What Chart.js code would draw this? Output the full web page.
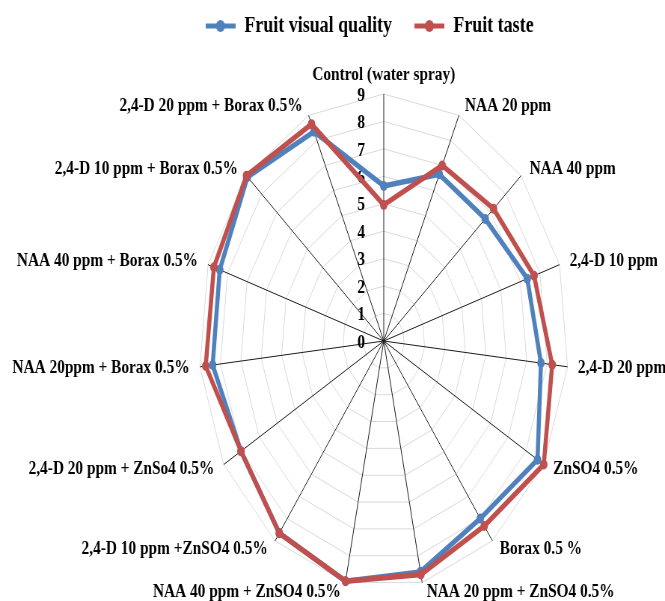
<!DOCTYPE html>
<html>
<head>
<meta charset="utf-8">
<script src="https://cdn.jsdelivr.net/npm/chart.js@4.4.1/dist/chart.umd.min.js"></script>
<style>
  html, body { margin: 0; padding: 0; background: #fff; overflow: hidden; }
  /* the reference is squeezed sideways, so draw wide and squeeze */
  #chart { width: 665px !important; height: 601px !important; display: block; }
</style>
</head>
<body>
<canvas id="chart" width="889" height="601"></canvas>
<script>
const categories = [
  'Control (water spray)', 'NAA 20 ppm', 'NAA 40 ppm', '2,4-D 10 ppm', '2,4-D 20 ppm',
  'ZnSO4 0.5%', 'Borax 0.5 %', 'NAA 20 ppm + ZnSO4 0.5%', 'NAA 40 ppm + ZnSO4 0.5%',
  '2,4-D 10 ppm +ZnSO4 0.5%', '2,4-D 20 ppm + ZnSo4 0.5%', 'NAA 20ppm + Borax 0.5%',
  'NAA 40 ppm + Borax 0.5%', '2,4-D 10 ppm + Borax 0.5%', '2,4-D 20 ppm + Borax 0.5%'
];
const visualQuality = [5.65, 6.65, 6.65, 7.35, 7.7, 8.65, 8.0, 8.6, 8.95, 8.65, 8.03, 8.38, 8.4, 8.93, 8.35];
const taste = [4.96, 7.0, 7.2, 7.7, 8.25, 9.0, 8.33, 8.7, 8.95, 8.66, 8.03, 8.72, 8.7, 9.0, 8.65];
const tickValues = [0, 1, 2, 3, 4, 5, 6, 7, 8, 9];

const BLUE = '#4f81bd';
const RED = '#c0504d';
const FONT = 'bold 18px "Liberation Serif", "Times New Roman", serif';
const TEXT_STRETCH = 1.14;

// little line-with-dot marker for the legend
function legendMark(color) {
  const c = document.createElement('canvas');
  c.width = 40; c.height = 14;
  const g = c.getContext('2d');
  g.strokeStyle = color; g.lineWidth = 5;
  g.beginPath(); g.moveTo(0, 7); g.lineTo(40, 7); g.stroke();
  g.fillStyle = color;
  g.beginPath(); g.arc(20, 7, 6, 0, Math.PI * 2); g.fill();
  return c;
}
const marks = [legendMark(BLUE), legendMark(RED)];

function drawText(ctx, text, x, y, align) {
  ctx.save();
  ctx.translate(x, y);
  ctx.scale(TEXT_STRETCH, 1);
  ctx.textAlign = align;
  ctx.fillText(text, 0, 0);
  ctx.restore();
}

const axisText = {
  id: 'axisText',
  beforeDatasetsDraw(chart) {
    const scale = chart.scales.r;
    const ctx = chart.ctx;
    ctx.save();
    ctx.font = FONT;
    ctx.fillStyle = '#000';
    ctx.textBaseline = 'middle';
    tickValues.forEach(v => {
      const d = scale.getDistanceFromCenterForValue(v);
      drawText(ctx, String(v), scale.xCenter - 25, scale.yCenter - d + 2, 'right');
    });
    ctx.restore();
  },
  afterDraw(chart) {
    const scale = chart.scales.r;
    const ctx = chart.ctx;
    ctx.save();
    ctx.font = FONT;
    ctx.fillStyle = '#000';
    ctx.textBaseline = 'middle';
    categories.forEach((name, i) => {
      const a = scale.getIndexAngle(i);
      const p = scale.getPointPosition(i, scale.drawingArea + 10);
      const s = Math.sin(a);
      if (Math.abs(s) < 0.05) {
        drawText(ctx, name, p.x, p.y - 9, 'center');
      } else if (s > 0) {
        drawText(ctx, name, p.x + 4, p.y, 'left');
      } else {
        drawText(ctx, name, p.x - 4, p.y, 'right');
      }
    });
    ctx.restore();
  }
};

new Chart(document.getElementById('chart'), {
  type: 'radar',
  data: {
    labels: categories,
    datasets: [
      {
        label: 'Fruit visual quality',
        data: visualQuality,
        borderColor: BLUE,
        backgroundColor: BLUE,
        pointBackgroundColor: BLUE,
        pointBorderColor: BLUE,
        order: 2
      },
      {
        label: 'Fruit taste',
        data: taste,
        borderColor: RED,
        backgroundColor: RED,
        pointBackgroundColor: RED,
        pointBorderColor: RED,
        order: 1
      }
    ]
  },
  options: {
    responsive: false,
    animation: false,
    devicePixelRatio: 1,
    layout: { padding: { top: -16, left: 99, right: 0, bottom: 0 } },
    elements: {
      line: { borderWidth: 5.5, tension: 0, fill: false },
      point: { radius: 5, borderWidth: 0, hoverRadius: 5 }
    },
    plugins: {
      tooltip: { enabled: false },
      legend: {
        position: 'top',
        labels: {
          usePointStyle: true,
          pointStyleWidth: 40,
          padding: 30,
          color: '#000',
          font: { family: '"Liberation Serif", "Times New Roman", serif', size: 24, weight: 'bold' },
          sort: (a, b) => a.datasetIndex - b.datasetIndex,
          generateLabels(chart) {
            return Chart.defaults.plugins.legend.labels.generateLabels(chart)
              .map(item => Object.assign(item, { pointStyle: marks[item.datasetIndex] }));
          }
        }
      }
    },
    scales: {
      r: {
        min: 0,
        max: 9,
        ticks: { stepSize: 1, display: false },
        grid: { color: '#d9d9d9', lineWidth: 1 },
        angleLines: { color: '#1a1a1a', lineWidth: 1 },
        pointLabels: { display: false },
        afterFit(scale) {
          scale.xCenter = 513;
          scale.yCenter = 341;
          scale.drawingArea = 247;
        }
      }
    }
  },
  plugins: [axisText]
});
</script>
</body>
</html>
